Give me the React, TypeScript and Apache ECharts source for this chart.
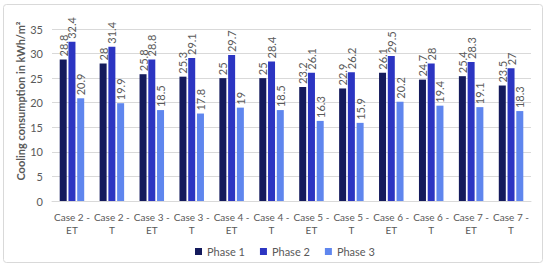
import React, { useEffect, useRef } from "react";
import * as echarts from "echarts";

const categories = [
  "Case 2 -\nET", "Case 2 -\nT", "Case 3 -\nET", "Case 3 -\nT",
  "Case 4 -\nET", "Case 4 -\nT", "Case 5 -\nET", "Case 5 -\nT",
  "Case 6 -\nET", "Case 6 -\nT", "Case 7 -\nET", "Case 7 -\nT",
];
const phase1 = [28.8, 28, 25.8, 25.3, 25, 25, 23.2, 22.9, 26.1, 24.7, 25.4, 23.5];
const phase2 = [32.4, 31.4, 28.8, 29.1, 29.7, 28.4, 26.1, 26.2, 29.5, 28, 28.3, 27];
const phase3 = [20.9, 19.9, 18.5, 17.8, 19, 18.5, 16.3, 15.9, 20.2, 19.4, 19.1, 18.3];
const seriesNames = ["Phase 1", "Phase 2", "Phase 3"];
const colors = ["#141a5c", "#2c35c2", "#5f86ee"];
const yAxisTitle = "Cooling consumption in kWh/m²";

const FONT = "Lato, 'Open Sans', sans-serif";
const GRAY = "#595959";

export default function App() {
  const ref = useRef<HTMLDivElement>(null);
  useEffect(() => {
    if (!ref.current) return;
    const chart = echarts.init(ref.current, undefined, { renderer: "svg" });
    const mk = (name: string, data: number[], color: string) => ({
      name,
      type: "bar",
      data,
      barWidth: 7,
      barGap: "25%",
      itemStyle: { color },
      label: {
        show: true,
        position: "top",
        rotate: 90,
        align: "left",
        verticalAlign: "middle",
        distance: 3,
        color: GRAY,
        fontSize: 11,
        fontFamily: FONT,
      },
    });
    chart.setOption({
      animation: false,
      textStyle: { fontFamily: FONT },
      grid: { left: 52, right: 19, top: 29, bottom: 69 },
      graphic: [
        {
          type: "rect",
          shape: { x: 3.5, y: 4.5, width: 539, height: 258, r: 3 },
          style: { fill: "none", stroke: "#d9d9d9", lineWidth: 1 },
          silent: true,
        },
        {
          type: "text",
          x: 20,
          y: 101,
          rotation: Math.PI / 2,
          style: {
            text: yAxisTitle,
            fill: GRAY,
            font: `bold 11px ${FONT}`,
            align: "center",
            verticalAlign: "middle",
          },
        },
      ],
      legend: {
        data: seriesNames,
        top: 241,
        left: 190,
        itemWidth: 7,
        itemHeight: 7,
        itemGap: 15,
        icon: "rect",
        textStyle: { color: GRAY, fontSize: 11, fontFamily: FONT },
      },
      xAxis: {
        type: "category",
        data: categories,
        axisLine: { lineStyle: { color: "#d9d9d9" } },
        axisTick: { show: false },
        axisLabel: {
          color: GRAY,
          fontSize: 10,
          fontFamily: FONT,
          lineHeight: 13,
          margin: 9,
          interval: 0,
        },
      },
      yAxis: {
        type: "value",
        min: 0,
        max: 35,
        interval: 5,
        axisLine: { show: false },
        axisTick: { show: false },
        splitLine: { lineStyle: { color: "#d9d9d9" } },
        axisLabel: { color: GRAY, fontSize: 11, fontFamily: FONT, margin: 9 },
      },
      series: [
        mk(seriesNames[0], phase1, colors[0]),
        mk(seriesNames[1], phase2, colors[1]),
        mk(seriesNames[2], phase3, colors[2]),
      ],
    });
    return () => chart.dispose();
  }, []);
  return (
    <div
      ref={ref}
      style={{ position: "fixed", left: 0, top: 0, width: 550, height: 270, background: "#fff" }}
    />
  );
}
